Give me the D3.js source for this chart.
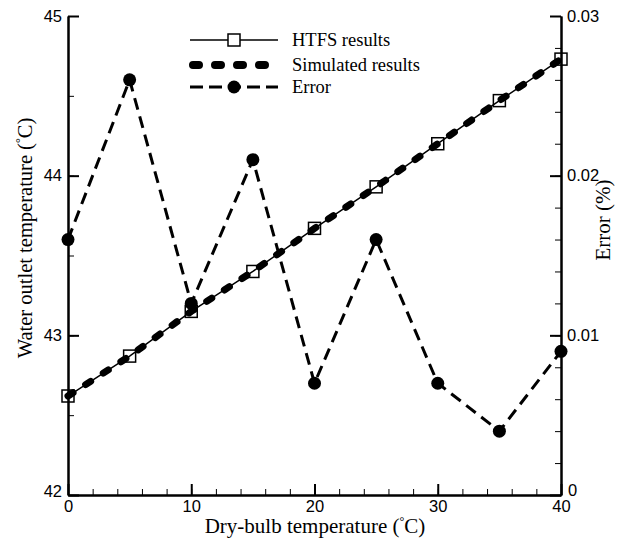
<!DOCTYPE html>
<html><head><meta charset="utf-8">
<script src="https://cdn.jsdelivr.net/npm/d3@7"></script>
<style>body{margin:0;background:#fff}svg{display:block}</style>
</head><body>
<svg id="c" width="621" height="541"></svg>
<script>
const dryBulb = [0, 5, 10, 15, 20, 25, 30, 35, 40];
const htfs = [42.62, 42.87, 43.15, 43.40, 43.67, 43.93, 44.20, 44.47, 44.73];
const simulated = [42.62, 42.87, 43.15, 43.40, 43.67, 43.93, 44.20, 44.47, 44.73];
const errorPct = [0.016, 0.026, 0.012, 0.021, 0.007, 0.016, 0.007, 0.004, 0.009];
const xTicks = [0, 10, 20, 30, 40];
const yLeftTicks = [42, 43, 44, 45];
const yRightTicks = [0, 0.01, 0.02, 0.03];
const legendLabels = ["HTFS results", "Simulated results", "Error"];

const svg = d3.select("#c");
const x = d3.scaleLinear().domain([0, 40]).range([68, 561]);
const yL = d3.scaleLinear().domain([42, 45]).range([495, 16]);
const yR = d3.scaleLinear().domain([0, 0.03]).range([495, 16]);
const sans = "Liberation Sans, Arial, sans-serif";
const serif = "Liberation Serif, Times New Roman, serif";

function styleAxis(g, major) {
  g.selectAll(".tick line").attr("stroke", "#000").attr("stroke-width", major ? 2 : 1);
  g.selectAll(".tick text").attr("font-family", sans).attr("font-size", 16.5).attr("fill", "#000");
  g.select(".domain").attr("stroke", "#000").attr("stroke-width", 2);
}
// minor ticks
svg.append("g").attr("transform", "translate(0,495)")
  .call(d3.axisBottom(x).tickValues(d3.range(0, 41, 2)).tickSize(-6).tickSizeOuter(0).tickFormat(""))
  .call(g => styleAxis(g, false));
svg.append("g").attr("transform", "translate(68,0)")
  .call(d3.axisLeft(yL).tickValues(d3.range(42, 45.01, 0.5)).tickSize(-6).tickSizeOuter(0).tickFormat(""))
  .call(g => styleAxis(g, false));
svg.append("g").attr("transform", "translate(561,0)")
  .call(d3.axisRight(yR).tickValues(d3.range(0, 0.0301, 0.002)).tickSize(-6).tickSizeOuter(0).tickFormat(""))
  .call(g => styleAxis(g, false));
// major
svg.append("g").attr("transform", "translate(0,495)")
  .call(d3.axisBottom(x).tickValues(xTicks).tickSize(-11).tickSizeOuter(0).tickPadding(5).tickFormat(d3.format("d")))
  .call(g => styleAxis(g, true));
svg.append("g").attr("transform", "translate(68,0)")
  .call(d3.axisLeft(yL).tickValues(yLeftTicks).tickSize(-11).tickSizeOuter(0).tickPadding(6).tickFormat(d3.format("d")))
  .call(g => styleAxis(g, true))
  .call(g => g.selectAll(".tick text").filter(d => d === 42).attr("dy", "0.1em"));
svg.append("g").attr("transform", "translate(561,0)")
  .call(d3.axisRight(yR).tickValues(yRightTicks).tickSize(-11).tickSizeOuter(0).tickPadding(6).tickFormat(d => d === 0 ? "0" : d3.format(".2f")(d)))
  .call(g => styleAxis(g, true))
  .call(g => g.selectAll(".tick text").filter(d => d === 0).attr("x", 7).attr("dy", "0.05em"));

// error series
const errLine = d3.line().x((d, i) => x(dryBulb[i])).y(d => yR(d));
svg.append("path").attr("d", errLine(errorPct)).attr("fill", "none").attr("stroke", "#000")
  .attr("stroke-width", 3).attr("stroke-dasharray", "12 7");
svg.selectAll(".ed").data(errorPct).enter().append("circle")
  .attr("cx", (d, i) => x(dryBulb[i])).attr("cy", d => yR(d)).attr("r", 6.5).attr("fill", "#000");

// HTFS
const lineL = d3.line().x((d, i) => x(dryBulb[i])).y(d => yL(d));
svg.append("path").attr("d", lineL(htfs)).attr("fill", "none").attr("stroke", "#000").attr("stroke-width", 1.5);
svg.selectAll(".sq").data(htfs).enter().append("rect")
  .attr("x", (d, i) => x(dryBulb[i]) - 6).attr("y", d => yL(d) - 6).attr("width", 12).attr("height", 12)
  .attr("fill", "none").attr("stroke", "#000").attr("stroke-width", 1.5);
// simulated
svg.append("path").attr("d", lineL(simulated)).attr("fill", "none").attr("stroke", "#000")
  .attr("stroke-width", 7).attr("stroke-linecap", "round").attr("stroke-dasharray", "6 15");

// legend
const lg = svg.append("g");
const rows = [40, 65, 87];
lg.append("line").attr("x1", 190).attr("x2", 278).attr("y1", rows[0]).attr("y2", rows[0]).attr("stroke", "#000").attr("stroke-width", 1.5);
lg.append("rect").attr("x", 228).attr("y", rows[0] - 6).attr("width", 12).attr("height", 12).attr("fill", "#fff").attr("stroke", "#000").attr("stroke-width", 1.5);
lg.append("line").attr("x1", 193).attr("x2", 275).attr("y1", rows[1]).attr("y2", rows[1]).attr("stroke", "#000")
  .attr("stroke-width", 8).attr("stroke-linecap", "round").attr("stroke-dasharray", "6 16");
lg.append("line").attr("x1", 190).attr("x2", 278).attr("y1", rows[2]).attr("y2", rows[2]).attr("stroke", "#000")
  .attr("stroke-width", 3).attr("stroke-dasharray", "13 6");
lg.append("circle").attr("cx", 234).attr("cy", rows[2]).attr("r", 6.5).attr("fill", "#000");
legendLabels.forEach((t, i) => {
  lg.append("text").attr("x", 292).attr("y", rows[i]).attr("dy", "0.35em")
    .attr("font-family", serif).attr("font-size", 18.5).text(t);
});

// axis titles
function degTitle(sel, before) {
  sel.append("tspan").text(before + "(");
  sel.append("tspan").attr("font-size", 12).attr("dy", -8).text("°");
  sel.append("tspan").attr("dy", 8).text("C)");
}
svg.append("text").attr("x", 315).attr("y", 533).attr("text-anchor", "middle")
  .attr("font-family", serif).attr("font-size", 21).call(s => degTitle(s, "Dry-bulb temperature "));
svg.append("text").attr("transform", "translate(32,238) rotate(-90)").attr("text-anchor", "middle")
  .attr("font-family", serif).attr("font-size", 20.5).call(s => degTitle(s, "Water outlet temperature "));
svg.append("text").attr("transform", "translate(610,220) rotate(-90)").attr("text-anchor", "middle")
  .attr("font-family", serif).attr("font-size", 21).text("Error (%)");
</script>
</body></html>
